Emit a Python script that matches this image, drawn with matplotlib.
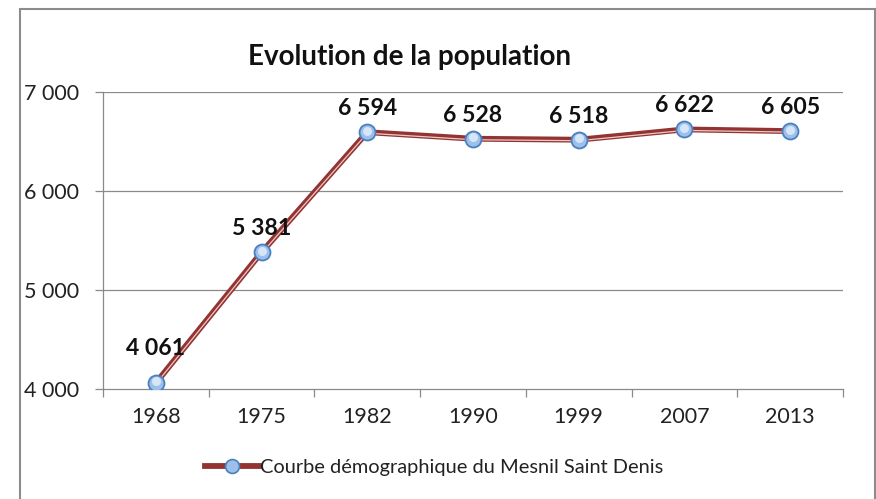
import matplotlib
matplotlib.use("Agg")
import matplotlib.pyplot as plt
import matplotlib.transforms as mtransforms
from matplotlib.lines import Line2D
from matplotlib.patches import Rectangle
from matplotlib.legend_handler import HandlerLine2D

years = ["1968", "1975", "1982", "1990", "1999", "2007", "2013"]
population = [4061, 5381, 6594, 6528, 6518, 6622, 6605]
y_ticks = [4000, 5000, 6000, 7000]
label_offsets = [25, 17, 17, 17, 17, 17, 17]  # points above each marker

title = "Evolution de la population"
series_name = "Courbe démographique du Mesnil Saint Denis"

plt.rcParams["font.family"] = ["Lato", "DejaVu Sans"]

DPI = 100
fig = plt.figure(figsize=(8.76, 4.99), dpi=DPI)
W, H = 876, 499

# outer chart frame
fig.patches.append(Rectangle((20 / W, -0.05), (875 - 20) / W, 1.05 - 9 / H,
                             transform=fig.transFigure, fill=False,
                             edgecolor="#8c8c8c", linewidth=1.5))

ax = fig.add_axes([103 / W, 1 - 389 / H, (843 - 103) / W, (389 - 92) / H])
x = list(range(len(years)))

ax.set_xlim(-0.5, len(years) - 0.5)
ax.set_ylim(y_ticks[0], y_ticks[-1])

grid_col = "#8a8a8a"
for s in ["top", "right"]:
    ax.spines[s].set_visible(False)
for s in ["left", "bottom"]:
    ax.spines[s].set_color(grid_col)
    ax.spines[s].set_linewidth(0.9)

ax.set_yticks(y_ticks)
ax.set_yticklabels([f"{v:,}".replace(",", " ") for v in y_ticks])
for v in y_ticks[1:]:
    ax.axhline(v, color=grid_col, linewidth=0.9, zorder=1)

ax.set_xticks(x)
ax.set_xticklabels(years)
ax.set_xticks([i - 0.5 for i in range(len(years) + 1)], minor=True)
ax.tick_params(axis="x", which="major", length=0, pad=13, labelsize=15.5,
               labelcolor="#222222")
ax.tick_params(axis="x", which="minor", length=6, width=0.9, color=grid_col,
               direction="out")
ax.tick_params(axis="y", length=6, width=0.9, color=grid_col,
               labelsize=15.5, labelcolor="#222222", pad=51)
for lab in ax.get_yticklabels():
    lab.set_horizontalalignment("left")

line_col = "#943432"
ax.plot(x, population, color=line_col, linewidth=4.2, zorder=3,
        solid_capstyle="round", solid_joinstyle="round")
shift = mtransforms.ScaledTranslation(0, -1.0 / DPI, fig.dpi_scale_trans)
ax.plot(x, population, color="#ecc9c8", linewidth=0.9, zorder=3.5,
        transform=ax.transData + shift)

ax.plot(x, population, linestyle="none", marker="o", markersize=11.5,
        markerfacecolor="#9cc0ea", markeredgecolor="#4a7fc0",
        markeredgewidth=1.3, zorder=4)
ax.plot(x, population, linestyle="none", marker="o", markersize=6.5,
        markerfacecolor="#d6e6f8", markeredgewidth=0, zorder=4.5,
        transform=ax.transData + mtransforms.ScaledTranslation(0, 1.5 / DPI, fig.dpi_scale_trans))

for xi, v, off in zip(x, population, label_offsets):
    ax.annotate(f"{v:,}".replace(",", " "), (xi, v), xytext=(0, off),
                textcoords="offset points", ha="center", va="center",
                fontsize=16.6, fontweight="bold", color="#111111",
                annotation_clip=False, zorder=5)

fig.text(410 / W, 1 - 56.5 / H, title, ha="center", va="center",
         fontsize=20, fontweight="bold", color="#111111")

handle = Line2D([], [], color=line_col, linewidth=4.2, marker="o",
                markersize=10, markerfacecolor="#9cc0ea",
                markeredgecolor="#4a7fc0", markeredgewidth=1.2)
fig.legend([handle], [series_name], loc="center", bbox_to_anchor=(434 / W, 1 - 467 / H),
           frameon=False, fontsize=14.4, handlelength=2.7, handletextpad=0.05,
           borderpad=0, labelcolor="#222222",
           handler_map={Line2D: HandlerLine2D(numpoints=1)})

fig.savefig("out.png", dpi=DPI)
